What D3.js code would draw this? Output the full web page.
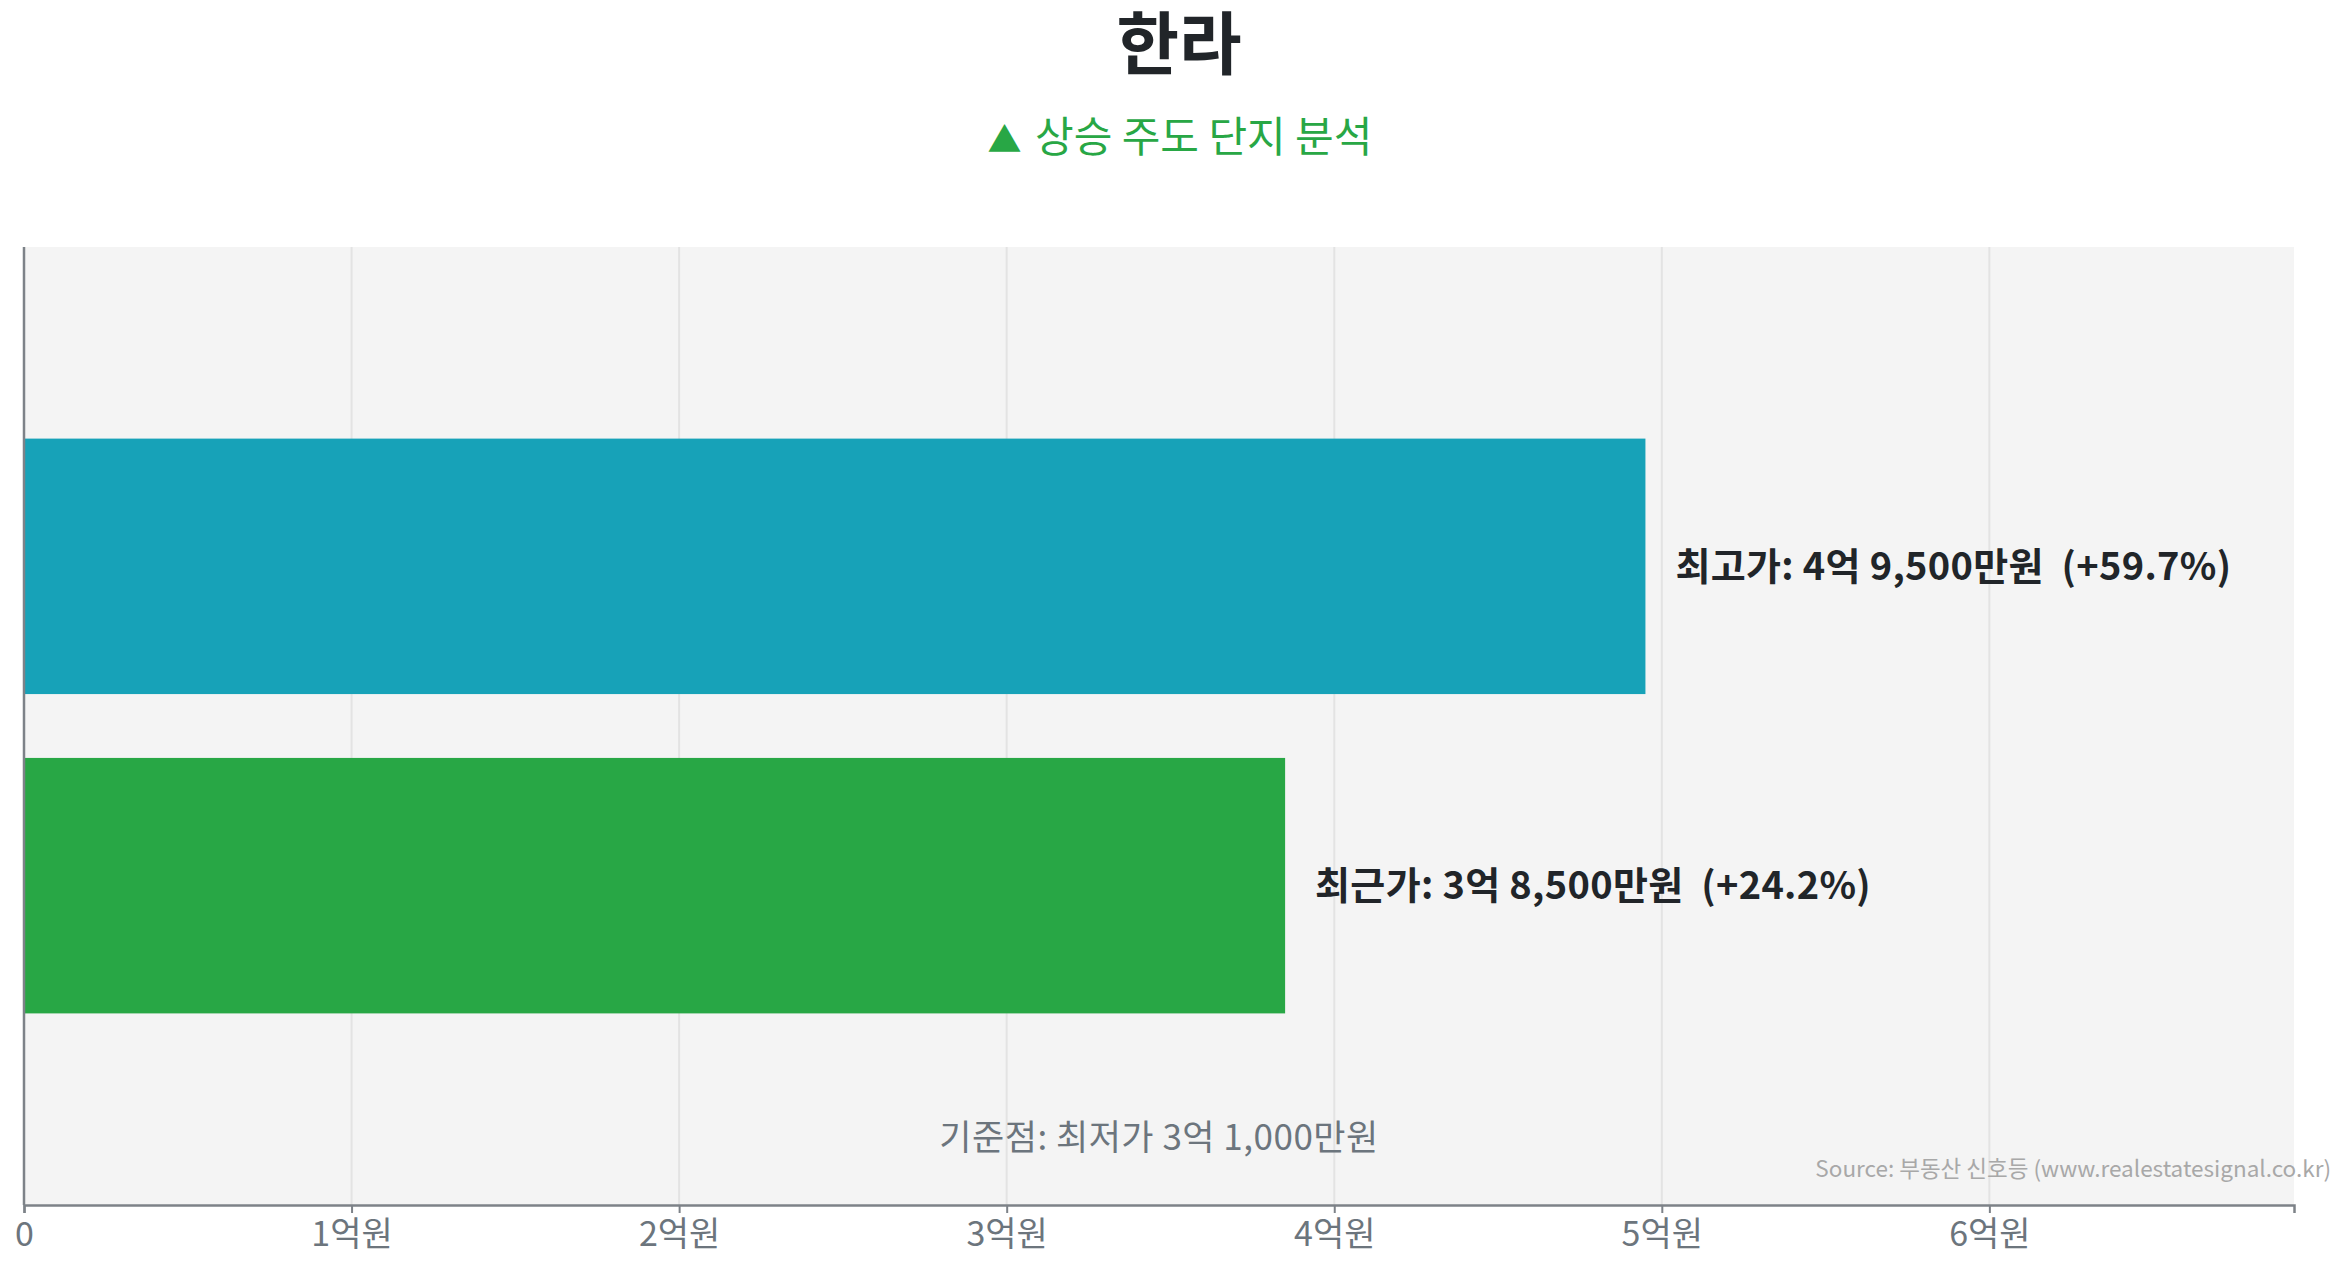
<!DOCTYPE html>
<html>
<head>
<meta charset="utf-8">
<script src="https://d3js.org/d3.v7.min.js"></script>
<style>
	body {margin: 0; background: #fff; }
	svg {display: block; font-family: "Noto Sans CJK KR", "Noto Sans", sans-serif; }
</style>
</head>
<body>
<svg id="chart" width="2345" height="1268"></svg>
<script>
const titleText = "한라";
const subtitleMark = "▲";
const subtitleText = " 상승 주도 단지 분석";
const categories = ["최고가", "최근가"];
const prices = [4.95, 3.85];           // 억원
const barColors = ["#17a2b8", "#28a745"];
const basePrice = 3.1;                 // 최저가, 억원
const xTicks = [0, 1, 2, 3, 4, 5, 6];
const sourceText = "Source: 부동산 신호등 (www.realestatesignal.co.kr)";

const svg = d3.select("#chart"),
	width = +svg.attr("width"),
	height = +svg.attr("height"),
	margin = {top: 247, right: 51, bottom: 63, left: 24};

const innerW = width - margin.left - margin.right,
	innerH = height - margin.top - margin.bottom;

// "4.95" -> "4억 9,500만원"
function formatEok(v) {
	const eok = Math.floor(v + 1e-9);
	const man = Math.round((v - eok) * 10000);
	return eok + "억 " + d3.format(",")(man) + "만원";
}

const data = categories.map((c, i) => ({
	name: c,
	value: prices[i],
	color: barColors[i],
	change: (prices[i] / basePrice - 1) * 100
}));

svg.append("text")
	.attr("x", 1179)
	.attr("y", 69)
	.attr("text-anchor", "middle")
	.attr("font-size", "68px")
	.attr("font-weight", "bold")
	.attr("fill", "#212529")
	.text(titleText);

const sub = svg.append("text")
	.attr("x", 1180)
	.attr("y", 152)
	.attr("text-anchor", "middle")
	.attr("font-size", "42px")
	.attr("fill", "#28a745");
sub.append("tspan").attr("font-size", "34px").text(subtitleMark);
sub.append("tspan").attr("dx", 4).text(subtitleText);

const g = svg.append("g")
	.attr("transform", `translate(${margin.left},${margin.top})`);

const x = d3.scaleLinear()
	.domain([0, d3.max(prices) * 1.4])
	.range([0, innerW]);

const y = d3.scaleBand()
	.domain(categories)
	.range([0, innerH])
	.paddingInner(0.2)
	.paddingOuter(0.6);

g.append("rect")
	.attr("width", innerW)
	.attr("height", innerH)
	.attr("fill", "#f4f4f4");

// grid
g.selectAll(".grid")
	.data(xTicks)
	.enter()
	.append("line")
	.attr("class", "grid")
	.attr("x1", d => x(d))
	.attr("x2", d => x(d))
	.attr("y1", 0)
	.attr("y2", innerH)
	.attr("stroke", "#e3e3e3")
	.attr("stroke-width", 2);

g.selectAll(".bar")
	.data(data)
	.enter()
	.append("rect")
	.attr("class", "bar")
	.attr("x", 0)
	.attr("y", d => y(d.name))
	.attr("width", d => x(d.value))
	.attr("height", y.bandwidth())
	.attr("fill", d => d.color);

g.selectAll(".bar-label")
	.data(data)
	.enter()
	.append("text")
	.attr("class", "bar-label")
	.attr("x", d => x(d.value) + 30)
	.attr("y", d => y(d.name) + y.bandwidth() / 2)
	.attr("dy", "0.35em")
	.attr("font-size", "38px")
	.attr("font-weight", "bold")
	.attr("letter-spacing", "0.3px")
	.attr("fill", "#212529")
	.attr("xml:space", "preserve")
	.text(d => `${d.name}: ${formatEok(d.value)}  (+${d.change.toFixed(1)}%)`);

g.append("text")
	.attr("x", innerW / 2)
	.attr("y", innerH - 67)
	.attr("dy", "0.35em")
	.attr("text-anchor", "middle")
	.attr("font-size", "35px")
	.attr("letter-spacing", "0.5px")
	.attr("fill", "#6c757d")
	.text("기준점: 최저가 " + formatEok(basePrice));

// x axis
const xAxis = g.append("g")
	.attr("transform", `translate(0,${innerH})`)
	.call(d3.axisBottom(x)
		.tickValues(xTicks)
		.tickSize(8)
		.tickPadding(9)
		.tickFormat(d => d === 0 ? "0" : d + "억원"));

xAxis.select(".domain").attr("stroke", "#7d8288").attr("stroke-width", 2.5);
xAxis.selectAll(".tick line").attr("stroke", "#7d8288").attr("stroke-width", 2);
xAxis.selectAll(".tick text")
	.attr("font-size", "34px")
	.attr("font-family", "'Noto Sans CJK KR', sans-serif")
	.attr("fill", "#6c757d");

// y axis line only
g.append("line")
	.attr("x1", 0)
	.attr("x2", 0)
	.attr("y1", 0)
	.attr("y2", innerH)
	.attr("stroke", "#7d8288")
	.attr("stroke-width", 2.5);

svg.append("text")
	.attr("x", 2331)
	.attr("y", 1177)
	.attr("text-anchor", "end")
	.attr("font-size", "22.5px")
	.attr("fill", "#a8a8a8")
	.text(sourceText);
</script>
</body>
</html>
